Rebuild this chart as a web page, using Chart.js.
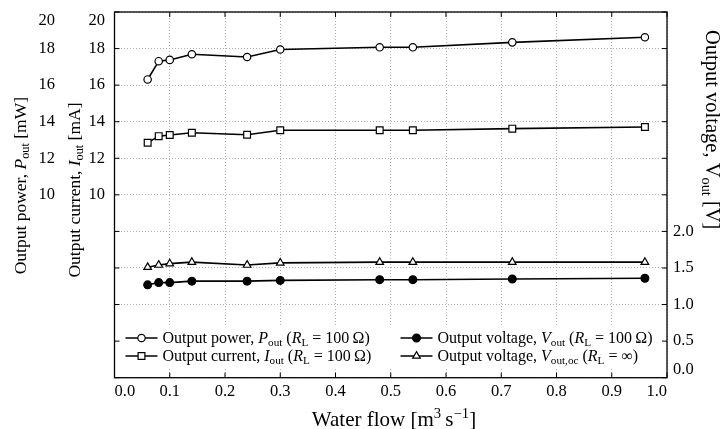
<!DOCTYPE html>
<html><head><meta charset="utf-8">
<script src="https://cdn.jsdelivr.net/npm/chart.js"></script>
<style>html,body{margin:0;padding:0;background:#fff}canvas{display:block}</style>
</head><body>
<canvas id="c" width="728" height="429"></canvas>
<script>
// ---------------- data ----------------
const flow       = [0.06, 0.08, 0.10, 0.14, 0.24, 0.30, 0.48, 0.54, 0.72, 0.96];
const powerMW    = [16.31, 17.31, 17.38, 17.69, 17.54, 17.95, 18.07, 18.07, 18.34, 18.62];
const currentMA  = [12.85, 13.21, 13.27, 13.40, 13.29, 13.53, 13.53, 13.53, 13.62, 13.71];
const voltageV   = [1.27, 1.30, 1.30, 1.32, 1.32, 1.33, 1.34, 1.34, 1.35, 1.36];
const voltageOcV = [1.51, 1.54, 1.56, 1.58, 1.54, 1.57, 1.58, 1.58, 1.58, 1.58];

const xTickValues     = [0, 0.1, 0.2, 0.3, 0.4, 0.5, 0.6, 0.7, 0.8, 0.9, 1.0];
const leftTickValues  = [0, 2, 4, 6, 8, 10, 12, 14, 16, 18, 20];
const leftTickLabels  = [10, 12, 14, 16, 18, 20];
const rightTickValues = [0, 0.5, 1, 1.5, 2, 2.5, 3, 3.5, 4, 4.5, 5];
const rightTickLabels = [0, 0.5, 1, 1.5, 2];

// ---------------- text ----------------
const FONT = "'Liberation Serif', 'Times New Roman', serif";
const R = t => ({t});
const I = t => ({t, i: true});
const SUB = t => ({t, s: 'sub'});
const SUP = t => ({t, s: 'sup'});
const TITLE_X = [R('Water flow [m'), SUP('3'), R('\u2009s'), SUP('\u22121'), R(']')];
const TITLE_P = [R('Output power, '), I('P'), SUB('out'), R(' [mW]')];
const TITLE_I = [R('Output current, '), I('I'), SUB('out'), R(' [mA]')];
const TITLE_V = [R('Output voltage, V'), SUB('out'), R(' [V]')];
const LEG_P   = [R('Output power, '), I('P'), SUB('out'), R(' ('), I('R'), SUB('L'), R(' = 100\u2009\u03A9)')];
const LEG_I   = [R('Output current, '), I('I'), SUB('out'), R(' ('), I('R'), SUB('L'), R(' = 100\u2009\u03A9)')];
const LEG_V   = [R('Output voltage, '), I('V'), SUB('out'), R(' ('), I('R'), SUB('L'), R(' = 100\u2009\u03A9)')];
const LEG_VOC = [R('Output voltage, '), I('V'), SUB('out,oc'), R(' ('), I('R'), SUB('L'), R(' = \u221E)')];

function setFont(ctx, size, italic) { ctx.font = (italic ? 'italic ' : '') + size + 'px ' + FONT; }
function partSize(p, size) { return (p.s === 'sub' || p.s === 'sup') ? size * 0.7 : size; }
function measureRich(ctx, parts, size) {
  let w = 0;
  for (const p of parts) { setFont(ctx, partSize(p, size), p.i); w += ctx.measureText(p.t).width; }
  return w;
}
function drawRich(ctx, parts, x, y, size, align) {
  const w = measureRich(ctx, parts, size);
  let cx = align === 'center' ? x - w / 2 : (align === 'right' ? x - w : x);
  ctx.textAlign = 'left'; ctx.textBaseline = 'alphabetic'; ctx.fillStyle = '#000';
  const base = y + size * 0.33;
  for (const p of parts) {
    setFont(ctx, partSize(p, size), p.i);
    const dy = p.s === 'sub' ? size * 0.2 : (p.s === 'sup' ? -size * 0.38 : 0);
    ctx.fillText(p.t, cx, base + dy);
    cx += ctx.measureText(p.t).width;
  }
  return w;
}

function drawMarker(ctx, style, x, y, r, fill) {
  ctx.save();
  ctx.fillStyle = fill; ctx.strokeStyle = '#000'; ctx.lineWidth = 1.2;
  ctx.beginPath();
  if (style === 'circle') ctx.arc(x, y, r, 0, Math.PI * 2);
  else if (style === 'rect') { const s = r * Math.SQRT1_2; ctx.rect(x - s, y - s, 2 * s, 2 * s); }
  else if (style === 'triangle') {
    let a = 0;
    ctx.moveTo(x + Math.sin(a) * r, y - Math.cos(a) * r);
    for (let k = 0; k < 2; k++) { a += 2 * Math.PI / 3; ctx.lineTo(x + Math.sin(a) * r, y - Math.cos(a) * r); }
    ctx.closePath();
  }
  ctx.fill(); ctx.stroke();
  ctx.restore();
}

const LEGEND_ITEMS = [
  {ds: 0, col: 0, row: 0, parts: LEG_P},
  {ds: 2, col: 1, row: 0, parts: LEG_V},
  {ds: 1, col: 0, row: 1, parts: LEG_I},
  {ds: 3, col: 1, row: 1, parts: LEG_VOC},
];

const decorations = {
  id: 'decorations',
  afterDatasetsDraw(chart) {
    const ctx = chart.ctx, a = chart.chartArea;
    const sx = chart.scales.x, sP = chart.scales.yP, sV = chart.scales.yV;
    ctx.save();
    // legend background
    ctx.fillStyle = '#fff';
    ctx.fillRect(a.left + 1, 325, a.right - a.left - 2, 43);
    // legend entries
    const colX = [a.left + 11, a.left + 286];
    const rowY = [338, 356];
    for (const it of LEGEND_ITEMS) {
      const ds = chart.data.datasets[it.ds];
      const x0 = colX[it.col], y0 = rowY[it.row];
      ctx.strokeStyle = '#000'; ctx.lineWidth = 1.6;
      ctx.beginPath(); ctx.moveTo(x0, y0); ctx.lineTo(x0 + 32, y0); ctx.stroke();
      drawMarker(ctx, ds.pointStyle, x0 + 16, y0, ds.pointRadius, ds.pointBackgroundColor);
      drawRich(ctx, it.parts, x0 + 37, y0, 16, 'left');
    }
    // frame
    ctx.strokeStyle = '#000'; ctx.lineWidth = 1.3;
    ctx.strokeRect(a.left, a.top, a.right - a.left, a.bottom - a.top);
    // inward ticks
    ctx.lineWidth = 1;
    sx.ticks.forEach(t => {
      const px = sx.getPixelForValue(t.value);
      ctx.beginPath(); ctx.moveTo(px, a.bottom); ctx.lineTo(px, a.bottom - 5);
      ctx.moveTo(px, a.top); ctx.lineTo(px, a.top + 5); ctx.stroke();
    });
    sP.ticks.forEach(t => {
      const py = sP.getPixelForValue(t.value);
      ctx.beginPath(); ctx.moveTo(a.left, py); ctx.lineTo(a.left + 5, py); ctx.stroke();
    });
    sV.ticks.forEach(t => {
      const py = sV.getPixelForValue(t.value);
      ctx.beginPath(); ctx.moveTo(a.right, py); ctx.lineTo(a.right - 5, py); ctx.stroke();
    });
    // axis titles
    drawRich(ctx, TITLE_X, 394, 419, 21, 'center');
    const tsz = 17.5;
    let w = measureRich(ctx, TITLE_P, tsz);
    ctx.save(); ctx.translate(20, 97 + w / 2); ctx.rotate(-Math.PI / 2);
    drawRich(ctx, TITLE_P, 0, 0, tsz, 'center'); ctx.restore();
    ctx.save(); ctx.translate(74, 190); ctx.rotate(-Math.PI / 2);
    drawRich(ctx, TITLE_I, 0, 0, tsz, 'center'); ctx.restore();
    w = measureRich(ctx, TITLE_V, 20.5);
    ctx.save(); ctx.translate(713, 30 + w / 2); ctx.rotate(Math.PI / 2);
    drawRich(ctx, TITLE_V, 0, 0, 20.5, 'center'); ctx.restore();
    ctx.restore();
  }
};

function pts(ys) { return flow.map((x, i) => ({x, y: ys[i]})); }
const baseDs = {borderColor: '#000', borderWidth: 1.6, pointBorderColor: '#000', pointBorderWidth: 1.2, tension: 0, fill: false};

const tickFont = {family: FONT, size: 16.5, lineHeight: 1};
const fixTicks = vals => scale => { scale.ticks = vals.map(v => ({value: v})); };

new Chart(document.getElementById('c'), {
  type: 'line',
  data: {
    datasets: [
      Object.assign({}, baseDs, {label: 'Output power', data: pts(powerMW), yAxisID: 'yP', pointStyle: 'circle', pointRadius: 3.7, pointBackgroundColor: '#fff'}),
      Object.assign({}, baseDs, {label: 'Output current', data: pts(currentMA), yAxisID: 'yI', pointStyle: 'rect', pointRadius: 4.8, pointBackgroundColor: '#fff'}),
      Object.assign({}, baseDs, {label: 'Output voltage', data: pts(voltageV), yAxisID: 'yV', pointStyle: 'circle', pointRadius: 3.9, pointBackgroundColor: '#000'}),
      Object.assign({}, baseDs, {label: 'Output voltage oc', data: pts(voltageOcV), yAxisID: 'yV', pointStyle: 'triangle', pointRadius: 4.4, pointBackgroundColor: '#fff'}),
    ]
  },
  options: {
    responsive: false, animation: false, devicePixelRatio: 1,
    layout: {padding: {top: 12, left: 0, right: 0, bottom: 0}},
    plugins: {legend: {display: false}, tooltip: {enabled: false}},
    scales: {
      x: {
        type: 'linear', position: 'bottom', min: 0, max: 1,
        afterBuildTicks: fixTicks(xTickValues),
        afterFit: s => { s.height = 51.3; s.paddingLeft = 0; s.paddingRight = 0; },
        ticks: {callback: v => v.toFixed(1), align: 'inner', maxRotation: 0, autoSkip: false, padding: 6, color: '#000', font: tickFont},
        grid: {color: '#b0b0b0', lineWidth: 1, drawTicks: false},
        border: {display: false, dash: [1, 2]}
      },
      yP: {
        type: 'linear', position: 'left', weight: 2, min: 0, max: 20,
        afterBuildTicks: fixTicks(leftTickValues),
        afterFit: s => { s.width = 62; s.paddingTop = 0; s.paddingBottom = 0; },
        ticks: {callback: v => leftTickLabels.includes(v) ? (v === 20 ? ['', '20'] : String(v)) : '', padding: 7, color: '#000', font: tickFont, autoSkip: false},
        grid: {color: '#b0b0b0', lineWidth: 1, drawTicks: false},
        border: {display: false, dash: [1, 2]}
      },
      yI: {
        type: 'linear', position: 'left', weight: 1, min: 0, max: 20,
        afterBuildTicks: fixTicks(leftTickValues),
        afterFit: s => { s.width = 52.5; s.paddingTop = 0; s.paddingBottom = 0; },
        ticks: {callback: v => leftTickLabels.includes(v) ? (v === 20 ? ['', '20'] : String(v)) : '', padding: 9.5, color: '#000', font: tickFont, autoSkip: false},
        grid: {display: false, drawTicks: false},
        border: {display: false}
      },
      yV: {
        type: 'linear', position: 'right', min: 0, max: 5,
        afterBuildTicks: fixTicks(rightTickValues),
        afterFit: s => { s.width = 61; s.paddingTop = 0; s.paddingBottom = 0; },
        ticks: {callback: v => rightTickLabels.includes(v) ? (v === 0 ? ['0.0', ''] : v.toFixed(1)) : '', padding: 6, color: '#000', font: tickFont, autoSkip: false},
        grid: {display: false, drawTicks: false},
        border: {display: false}
      }
    }
  },
  plugins: [decorations]
});
</script>
</body></html>
